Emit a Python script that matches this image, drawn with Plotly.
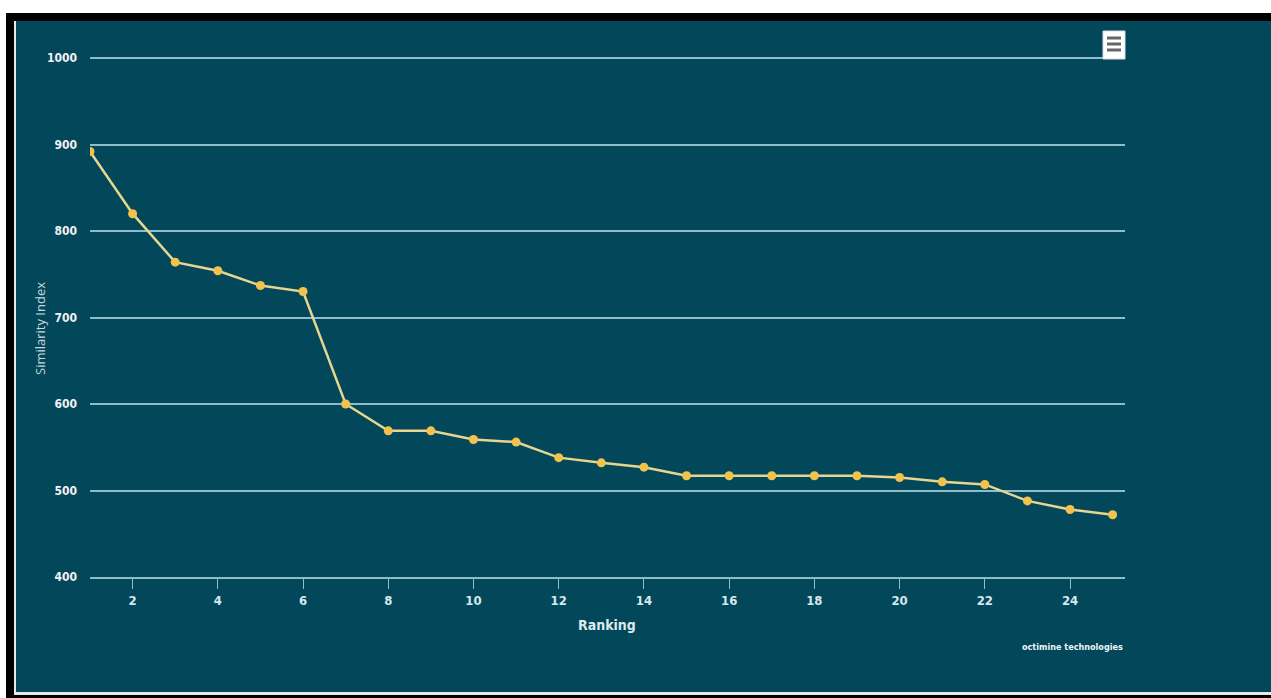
import plotly.graph_objects as go

# ---- data ----
ranking = list(range(1, 26))
similarity = [892, 820, 764, 754, 737, 730, 600, 569, 569, 559, 556, 538, 532,
              527, 517, 517, 517, 517, 517, 515, 510, 507, 488, 478, 472]
x_ticks = list(range(2, 26, 2))
y_ticks = [400, 500, 600, 700, 800, 900, 1000]

# ---- layout geometry (pixels) ----
W, H = 1271, 698
ML, MR, MT, MB = 90, 146, 56, 121
PW = W - ML - MR
PH = H - MT - MB
Y_TOP = 400 + PH * (600 / 519)

def px(x):
    return (x - ML) / PW

def py(y):
    return (H - MB - y) / PH

BG = "#03475a"
GRID = "#8fbccb"
LINE = "#e6d68f"
MARK = "#f1c24e"
COND = "DejaVu Sans Condensed, Liberation Sans Narrow, Arial Narrow, sans-serif"

fig = go.Figure()
fig.add_trace(go.Scatter(
    x=ranking, y=similarity, mode="lines+markers",
    line=dict(color=LINE, width=2.5),
    marker=dict(color=MARK, size=9),
    showlegend=False, hoverinfo="x+y",
))

shapes = []
def rect(x0, y0, x1, y1, color, layer="above"):
    shapes.append(dict(type="rect", xref="paper", yref="paper",
                       x0=px(x0), x1=px(x1), y0=py(y1), y1=py(y0),
                       fillcolor=color, line=dict(width=0), layer=layer))

# frame
rect(0, 0, W, 13, "#ffffff")
rect(0, 13, W, 21, "#000000")
rect(0, 0, 6, H, "#ffffff")
rect(6, 13, 14, H, "#000000")
rect(14, 21, 16, 694, "#e8e8e8")
rect(14, 692, W, 695, "#e8e8e8")
rect(6, 695, W, H, "#000000")

# menu button
shapes.append(dict(type="rect", xref="paper", yref="paper",
                   x0=px(1103), x1=px(1125), y0=py(59), y1=py(31),
                   fillcolor="#ffffff", line=dict(color="#dddddd", width=1)))
for yy in (38, 44, 50):
    shapes.append(dict(type="line", xref="paper", yref="paper",
                       x0=px(1107), x1=px(1121), y0=py(yy), y1=py(yy),
                       line=dict(color="#666666", width=3)))

fig.update_layout(
    width=W, height=H,
    margin=dict(l=ML, r=MR, t=MT, b=MB),
    paper_bgcolor=BG, plot_bgcolor=BG,
    shapes=shapes,
    xaxis=dict(
        range=[1, 25.29], tickvals=x_ticks, ticktext=[str(v) for v in x_ticks],
        showgrid=False, zeroline=False,
        showline=True, linecolor=GRID, linewidth=2,
        ticks="outside", ticklen=10, tickcolor=GRID, tickwidth=1,
        tickfont=dict(family=COND, size=13, color="#d6e8ee", weight="bold"),
    ),
    yaxis=dict(
        range=[400, Y_TOP], tickvals=y_ticks, ticktext=[str(v) for v in y_ticks],
        showgrid=True, gridcolor=GRID, gridwidth=2,
        zeroline=False, showline=False, ticks="",
        ticklabelstandoff=12,
        tickfont=dict(family=COND, size=12, color="#f2f2f2", weight="bold"),
    ),
    annotations=[
        dict(text="Similarity Index",
             xref="paper", yref="paper",
             x=px(40), y=py(329), textangle=-90, showarrow=False,
             font=dict(family="Open Sans, sans-serif", size=13, color="#c9d8de"),
             xanchor="center", yanchor="middle"),
        dict(text="<b>Ranking</b>", xref="paper", yref="paper",
             x=px(607), y=py(625), showarrow=False,
             font=dict(family=COND, size=14, color="#dde9ee"),
             xanchor="center", yanchor="middle"),
        dict(text="<b>octimine technologies</b>", xref="paper", yref="paper",
             x=px(1125), y=py(647), showarrow=False,
             font=dict(family=COND, size=9, color="#f0f4f6"),
             xanchor="right", yanchor="middle"),
    ],
)

fig.write_html("out.html", config={"displayModeBar": False},
               post_script="document.body.style.margin='0';document.body.style.overflow='hidden';")
